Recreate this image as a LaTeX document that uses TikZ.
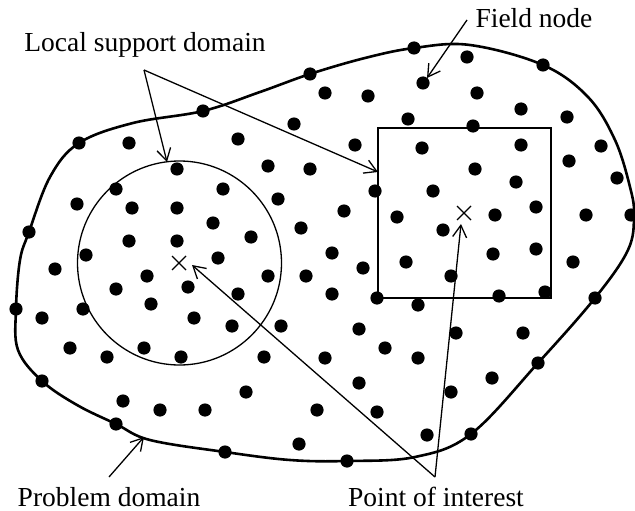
\documentclass[tikz,border=0pt]{standalone}
\usepackage{fontspec}
\setmainfont{Liberation Serif}
\newfontfamily\tnrfont{Liberation Serif}
\usetikzlibrary{arrows.meta,calc}
\begin{document}
\begin{tikzpicture}[x=1pt,y=-1pt,
  lbl/.style={font=\tnrfont\fontsize{27.5}{33}\selectfont, inner sep=0pt, anchor=base},
  thin/.style={line width=1.3pt},
  arr/.style={line width=1.3pt, -{Straight Barb[length=12pt,width=14pt,line width=1.3pt]}},
  dot/.style={fill=black},
  bnd/.style={line width=2.6pt}]
\useasboundingbox (0,0) rectangle (635,511);
% problem domain boundary
\draw[bnd] plot[smooth cycle, tension=0.6] coordinates {
 (310,74) (365,58) (414,48) (470,45) (543,65) (588,97) (615,140) (630,187) (634,215)
 (628,250) (595,298) (538,363) (471,434) (415,457) (347,461) (290,460) (225,452)
 (150,440) (116,424) (77,405) (42,381) (18,350) (16,309) (20,260) (29,232) (50,177)
 (79,143) (133,123) (203,111) (260,92)};
% support domains
\draw[thin] (179.5,263) circle (102);
\draw[thin] (378,128) rectangle (551,298);
% field nodes
\foreach \p in {
 (310,74),(203,111),(79,143),(29,232),(16,309),(42,381),(116,424),(225,452),(347,461),
 (471,434),(538,363),(595,298),(631,215),(543,65),(414,48),
 (129,143),(238,139),(294,124),(77,204),(116,189),(177,169),(223,189),(268,166),(310,169),
 (278,199),(132,208),(177,208),(213,223),(251,237),(301,228),(129,241),(177,241),(86,255),(218,258),
 (55,269),(147,276),(268,276),(306,276),(116,289),(188,287),(238,294),(42,318),(83,309),
 (151,304),(194,318),(232,326),(281,326),(70,348),(107,357),(144,348),(181,357),(264,357),
 (317,410),(123,401),(160,410),(205,410),(246,392),(299,444),
 (467,57),(325,93),(368,96),(423,83),(477,93),(521,109),(567,117),(408,119),(473,126),
 (355,145),(422,148),(521,145),(601,146),(569,161),(475,169),(617,178),(375,191),(433,191),
 (516,182),(344,211),(397,217),(495,215),(536,207),(586,215),(443,230),(332,253),(406,262),
 (493,254),(536,249),(573,262),
 (363,268),(451,276),(332,294),(377,298),(418,305),(499,296),(545,292),(359,329),(456,333),
 (523,333),(385,348),(325,358),(418,358),(359,383),(451,392),(492,378),(377,412),(427,435)}
  \fill[dot] \p circle (6.6);
% points of interest
\coordinate (X1) at (179,263);
\coordinate (X2) at (464,213);
\draw[thin] ($(X1)+(-7,-7)$) -- ($(X1)+(7,7)$) ($(X1)+(-7,7)$) -- ($(X1)+(7,-7)$);
\draw[thin] ($(X2)+(-7,-7)$) -- ($(X2)+(7,7)$) ($(X2)+(-7,7)$) -- ($(X2)+(7,-7)$);
% labels
\node[lbl] (lsd) at (145,52) {Local support domain};
\node[lbl] (fn) at (534,28) {Field node};
\node[lbl] (pd) at (109,506) {Problem domain};
\node[lbl] (poi) at (436,506) {Point of interest};
% arrow anchors
\coordinate (a1) at (144,70);
\coordinate (c1) at (167,162);
\coordinate (r1) at (378,172);
\coordinate (f0) at (467,20);
\coordinate (f1) at (427,78);
\coordinate (p0) at (109,477);
\coordinate (p1) at (144,437);
\coordinate (q0) at (435,477);
\coordinate (q1) at (192,265);
\coordinate (q2) at (461,224);
\draw[arr] (a1) -- (c1);
\draw[arr] (a1) -- (r1);
\draw[arr] (f0) -- (f1);
\draw[arr] (p0) -- (p1);
\draw[arr] (q0) -- (q1);
\draw[arr] (q0) -- (q2);
\end{tikzpicture}
\end{document}
